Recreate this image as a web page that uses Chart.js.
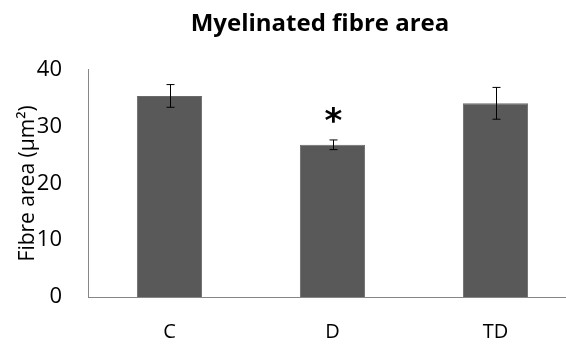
<!DOCTYPE html>
<html>
<head>
<meta charset="utf-8">
<script src="https://cdn.jsdelivr.net/npm/chart.js@4"></script>
<style>
    html, body { margin: 0; padding: 0; background: #fff; }
    .wrap { width: 566px; height: 347px; overflow: hidden; }
</style>
</head>
<body>
<div class="wrap">
    <canvas id="fibreChart" width="640" height="347"></canvas>
</div>
<script>
// Data
const groups = ['C', 'D', 'TD'];
const meanArea = [35.4, 26.8, 34.1];
const errArea = [2.0, 0.85, 2.8];
const significance = ['', '*', ''];
const yTicks = [0, 10, 20, 30, 40];

const AXIS_COLOR = '#868686';
const BAR_COLOR = '#595959';

// Error bars + significance marks
const errorBarPlugin = {
    id: 'errorBars',
    afterLayout(chart) {
        // centre the title over the whole canvas, not only the padded box
        if (chart.titleBlock) {
            chart.titleBlock.left = 0;
            chart.titleBlock.right = chart.width;
        }
    },
    afterDatasetsDraw(chart) {
        const ctx = chart.ctx;
        const x = chart.scales.x;
        const y = chart.scales.y;
        ctx.save();
        ctx.strokeStyle = '#000';
        ctx.lineWidth = 1;
        groups.forEach((g, i) => {
            const cx = Math.round(x.getPixelForValue(i)) + 0.5;
            const top = y.getPixelForValue(meanArea[i] + errArea[i]);
            const bottom = y.getPixelForValue(meanArea[i] - errArea[i]);
            ctx.beginPath();
            ctx.moveTo(cx, top);
            ctx.lineTo(cx, bottom);
            ctx.moveTo(cx - 4, top);
            ctx.lineTo(cx + 4, top);
            ctx.moveTo(cx - 4, bottom);
            ctx.lineTo(cx + 4, bottom);
            ctx.stroke();

            if (significance[i]) {
                ctx.fillStyle = '#000';
                ctx.font = 'bold 34px "DejaVu Sans"';
                ctx.textAlign = 'center';
                ctx.textBaseline = 'middle';
                ctx.fillText(significance[i], cx, top - 17);
            }
        });
        ctx.restore();
    }
};

const ctx = document.getElementById('fibreChart').getContext('2d');
new Chart(ctx, {
    type: 'bar',
    data: {
        labels: groups,
        datasets: [{
            data: meanArea,
            backgroundColor: BAR_COLOR,
            borderColor: '#6a6a6a',
            borderWidth: 1,
            categoryPercentage: 1.0,
            barPercentage: 0.4
        }]
    },
    options: {
        responsive: false,
        animation: false,
        layout: {
            padding: { left: 15, right: 63, top: 6, bottom: 0 }
        },
        plugins: {
            legend: { display: false },
            tooltip: { enabled: false },
            title: {
                display: true,
                text: 'Myelinated fibre area',
                color: '#000',
                font: { family: '"Open Sans"', size: 24, weight: 'bold' },
                padding: { top: 4, bottom: 31 }
            }
        },
        scales: {
            x: {
                grid: { display: false, drawTicks: false },
                border: { color: AXIS_COLOR, width: 1 },
                ticks: {
                    color: '#000',
                    padding: 23,
                    font: { family: '"Open Sans"', size: 20 }
                },
                afterFit(scale) {
                    scale.height = 50;
                }
            },
            y: {
                min: 0,
                max: 40,
                afterBuildTicks(scale) {
                    scale.ticks = yTicks.map(v => ({ value: v }));
                },
                grid: { display: false, drawTicks: false },
                border: { color: AXIS_COLOR, width: 1 },
                ticks: {
                    color: '#000',
                    padding: 26,
                    font: { family: '"Open Sans"', size: 22 }
                },
                title: {
                    display: true,
                    text: 'Fibre area (μm²)',
                    color: '#000',
                    padding: { top: 0, bottom: 0 },
                    font: { family: '"Open Sans"', size: 21 }
                },
                afterFit(scale) {
                    scale.width = 73;
                }
            }
        }
    },
    plugins: [errorBarPlugin]
});
</script>
</body>
</html>
